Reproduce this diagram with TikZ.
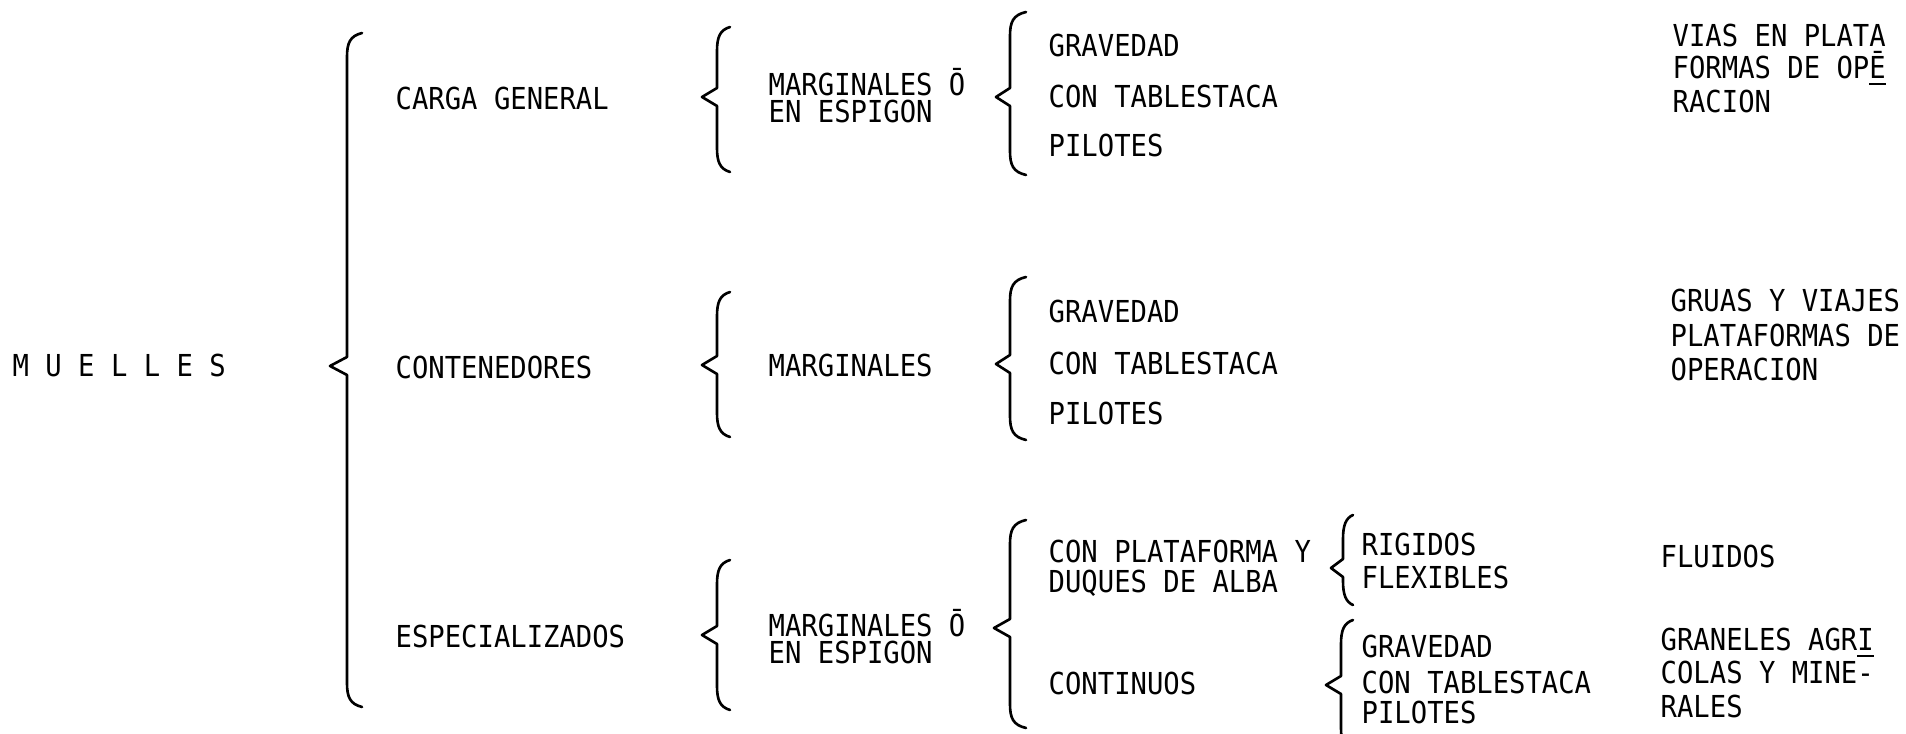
\documentclass[tikz,border=0pt]{standalone}
\usepackage{fontspec}
\newfontfamily\typewriter[FakeStretch=0.9]{DejaVu Sans Mono}
\usetikzlibrary{positioning}

% hand-typed curly brace: x of stem, x of ends, x of tip, y top, y tip, y bottom
\newcommand{\typebrace}[6]{%
  \draw[brc] (#2,#4) .. controls (#1+3,#4+3) and (#1,#4+10) .. (#1,#4+24)
    -- (#1,#5-9) -- (#3,#5) -- (#1,#5+9) -- (#1,#6-24)
    .. controls (#1,#6-10) and (#1+3,#6-3) .. (#2,#6);}

\begin{document}
\begin{tikzpicture}[x=0.01cm, y=-0.01cm,
  lbl/.style={anchor=base west, inner sep=0pt,
              font=\typewriter\fontsize{8.6}{10}\selectfont},
  brc/.style={line width=0.75pt, line cap=round, line join=round}
]
\useasboundingbox (0,0) rectangle (1906,734);
\clip (0,0) rectangle (1906,734);

% root
\node[lbl] (muelles) at (12,377) {M U E L L E S};
\typebrace{347}{362}{330}{33}{366}{707}

% first level
\node[lbl] (carga)    at (395,110) {CARGA GENERAL};
\node[lbl] (conten)   at (395,379) {CONTENEDORES};
\node[lbl] (especial) at (395,648) {ESPECIALIZADOS};

\typebrace{717}{730}{702}{27}{97}{172}
\typebrace{717}{730}{702}{292}{365}{437}
\typebrace{717}{730}{702}{560}{635}{710}

% second level
\node[lbl] (marg1)  at (768,96)  {MARGINALES Ō};
\node[lbl] (espig1) at (768,123) {EN ESPIGON};
\node[lbl] (marg2)  at (768,377) {MARGINALES};
\node[lbl] (marg3)  at (768,637) {MARGINALES Ō};
\node[lbl] (espig3) at (768,664) {EN ESPIGON};

\typebrace{1010}{1026}{996}{12}{97}{175}
\typebrace{1010}{1026}{996}{277}{364}{440}
\typebrace{1010}{1026}{994}{520}{628}{728}

% third level
\node[lbl] (grav1)  at (1048,57)  {GRAVEDAD};
\node[lbl] (tabl1)  at (1048,108) {CON TABLESTACA};
\node[lbl] (pil1)   at (1048,157) {PILOTES};
\node[lbl] (grav2)  at (1048,323) {GRAVEDAD};
\node[lbl] (tabl2)  at (1048,375) {CON TABLESTACA};
\node[lbl] (pil2)   at (1048,425) {PILOTES};
\node[lbl] (plat)   at (1048,563) {CON PLATAFORMA Y};
\node[lbl] (duques) at (1048,593) {DUQUES DE ALBA};
\node[lbl] (contin) at (1048,695) {CONTINUOS};

\typebrace{1343}{1353}{1331}{515}{568}{605}
\typebrace{1341}{1353}{1326}{620}{685}{752}

% fourth level
\node[lbl] (rigid) at (1361,556) {RIGIDOS};
\node[lbl] (flex)  at (1361,589) {FLEXIBLES};
\node[lbl] (grav3) at (1361,658) {GRAVEDAD};
\node[lbl] (tabl3) at (1361,693) {CON TABLESTACA};
\node[lbl] (pil3)  at (1361,724) {PILOTES};

% notes on the right
\node[lbl] (vias1)   at (1672,47)  {VIAS EN PLATA};
\node[lbl] (vias2)   at (1672,79)  {FORMAS DE OP\underline{Ē}};
\node[lbl] (vias3)   at (1672,113) {RACION};
\node[lbl] (gruas1)  at (1670,312) {GRUAS Y VIAJES};
\node[lbl] (gruas2)  at (1670,347) {PLATAFORMAS DE};
\node[lbl] (gruas3)  at (1670,381) {OPERACION};
\node[lbl] (fluidos) at (1660,568) {FLUIDOS};
\node[lbl] (granel1) at (1660,651) {GRANELES AGR\underline{I}};
\node[lbl] (granel2) at (1660,684) {COLAS Y MINE-};
\node[lbl] (granel3) at (1660,718) {RALES};
\end{tikzpicture}
\end{document}
